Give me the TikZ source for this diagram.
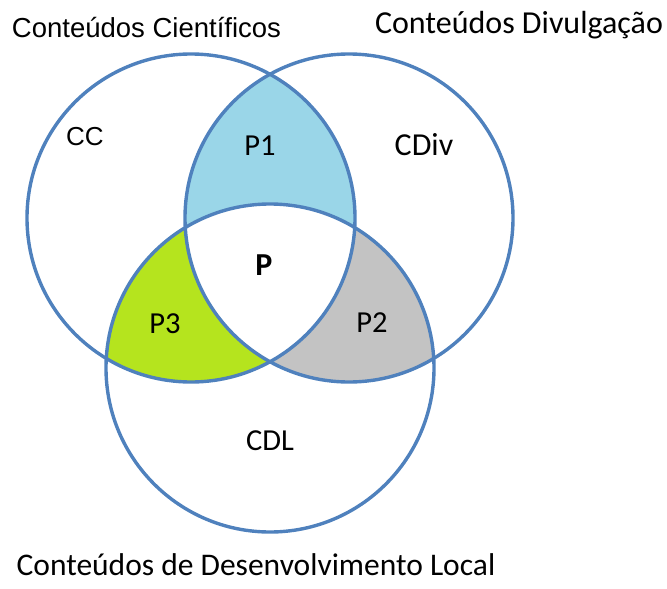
\documentclass[tikz,border=0pt]{standalone}
\usepackage{fontspec}
\setmainfont{Carlito}
\newfontfamily\arialfont{Liberation Sans}
\definecolor{vennline}{HTML}{4F81BD}
\definecolor{pbluefill}{HTML}{9AD6E8}
\definecolor{pgreenfill}{HTML}{B5E41E}
\definecolor{pgrayfill}{HTML}{C3C3C3}
\newcommand{\vennr}{164}

\begin{document}
\begin{tikzpicture}[
		x=1pt, y=-1pt,
		venn/.style={circle, draw=vennline, line width=3.4pt, minimum size=328pt, inner sep=0pt},
		lbl/.style={anchor=base, inner sep=0pt, font=\fontsize{30.5}{36}\selectfont},
		title/.style={anchor=base, inner sep=0pt, font=\fontsize{31.5}{38}\selectfont},
	]
		\useasboundingbox (0,0) rectangle (667,589);
		\coordinate (ccc) at (191,218);
		\coordinate (cdivc) at (349,218);
		\coordinate (cdlc) at (270,368);

		% intersections
		\begin{scope}
			\clip (ccc) circle[radius=\vennr];
			\fill[pbluefill] (cdivc) circle[radius=\vennr];
			\fill[pgreenfill] (cdlc) circle[radius=\vennr];
		\end{scope}
		\begin{scope}
			\clip (cdivc) circle[radius=\vennr];
			\fill[pgrayfill] (cdlc) circle[radius=\vennr];
		\end{scope}
		\begin{scope}
			\clip (ccc) circle[radius=\vennr];
			\clip (cdivc) circle[radius=\vennr];
			\fill[white] (cdlc) circle[radius=\vennr];
		\end{scope}

		\node (cc) [venn] at (ccc) {};
		\node (cdiv) [venn] at (cdivc) {};
		\node (cdl) [venn] at (cdlc) {};

		\node (cclbl) [lbl, font=\arialfont\fontsize{26}{31}\selectfont] at (85,145) {CC};
		\node (cdivlbl) [lbl, font=\fontsize{32}{38}\selectfont] at (424,155) {CDiv};
		\node (cdllbl) [lbl] at (270,450) {CDL};
		\node (p1) [lbl] at (260,155) {P1};
		\node (p2) [lbl] at (372,332) {P2};
		\node (p3) [lbl] at (165,333) {P3};
		\node (p) [lbl, font=\bfseries\fontsize{32}{38}\selectfont] at (264,275) {P};

		\node (cctitle) [title, font=\arialfont\fontsize{27.5}{33}\selectfont] at (146.5,37) {Conteúdos Científicos};
		\node (cdivtitle) [title, font=\fontsize{32}{38}\selectfont] at (519,33) {Conteúdos Divulgação};
		\node (cdltitle) [title] at (256,575) {Conteúdos de Desenvolvimento Local};
	\end{tikzpicture}
\end{document}
